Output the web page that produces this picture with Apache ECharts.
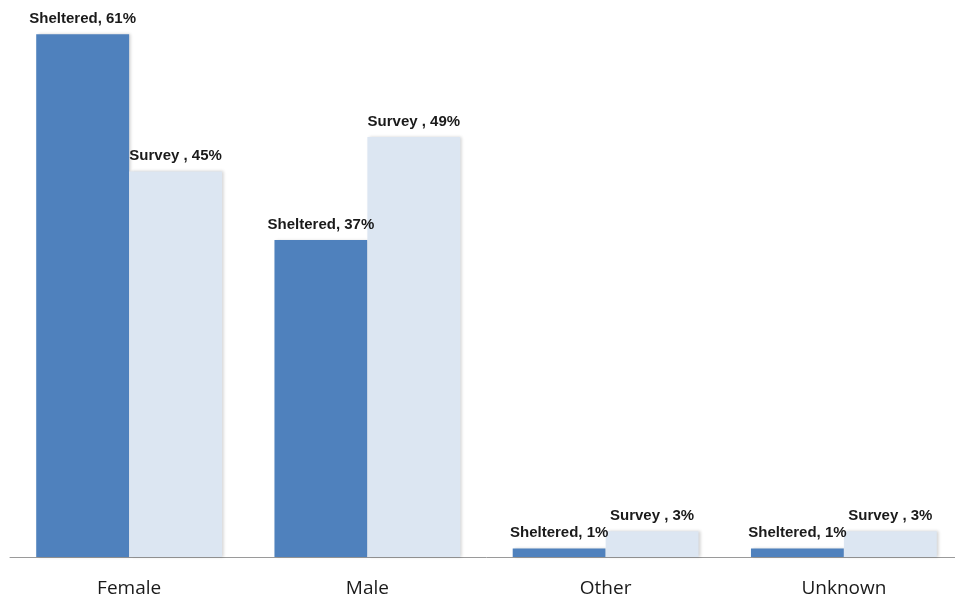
<!DOCTYPE html>
<html>
<head>
<meta charset="utf-8">
<style>
  html, body { margin: 0; padding: 0; background: #ffffff; overflow: hidden; }
  #chart { width: 963px; height: 598px; }
</style>
<script src="https://cdn.jsdelivr.net/npm/echarts@6/dist/echarts.min.js"></script>
</head>
<body>
<div id="chart"></div>
<script>
// Gender breakdown: sheltered population vs. survey respondents (percent)
const categories = ['Female', 'Male', 'Other', 'Unknown'];
const shelteredValues = [61, 37, 1, 1];
const surveyValues = [45, 49, 3, 3];
const seriesNames = ['Sheltered', 'Survey '];

const chart = echarts.init(document.getElementById('chart'));

const labelStyle = {
  show: true,
  position: 'top',
  distance: 8,
  fontFamily: 'Liberation Sans, Arial, sans-serif',
  fontWeight: 'bold',
  fontSize: 15,
  color: '#1a1a1a',
  formatter: p => p.seriesName + ', ' + p.value + '%'
};

const barShadow = {
  shadowColor: 'rgba(0,0,0,0.18)',
  shadowBlur: 3,
  shadowOffsetX: 2,
  shadowOffsetY: 0
};

chart.setOption({
  animation: false,
  grid: { left: 10, right: 0, top: 0, bottom: 41, containLabel: false },
  xAxis: {
    type: 'category',
    data: categories,
    axisLine: { lineStyle: { color: '#9a9a9a', width: 1 } },
    axisTick: { show: false },
    axisLabel: {
      margin: 22,
      fontFamily: 'Open Sans, Liberation Sans, sans-serif',
      fontSize: 19,
      color: '#1a1a1a'
    }
  },
  yAxis: {
    type: 'value',
    min: 0,
    max: 65,
    show: false,
    splitLine: { show: false }
  },
  series: [
    {
      name: seriesNames[0],
      type: 'bar',
      data: shelteredValues,
      barGap: '0%',
      barCategoryGap: '22%',
      itemStyle: Object.assign({ color: '#4F81BD' }, barShadow),
      label: labelStyle
    },
    {
      name: seriesNames[1],
      type: 'bar',
      data: surveyValues,
      itemStyle: Object.assign({ color: '#DCE6F2' }, barShadow),
      label: labelStyle
    }
  ]
});
</script>
</body>
</html>
